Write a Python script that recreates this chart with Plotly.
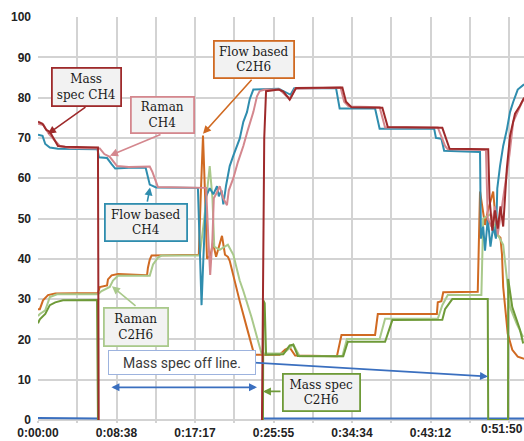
import plotly.graph_objects as go

# time in minutes, values in %
flow_ch4_t = [0, 0.5, 0.8, 1.3, 2.2, 6.55, 6.7, 7.6, 8.1, 8.5, 10, 11.85, 12.3, 13, 17.6,
              17.75, 18.0, 18.2, 18.5, 18.9, 19.3, 19.7, 19.9, 20.2, 20.4, 20.7, 21.1, 21.5, 21.9,
              22.2, 22.6, 23.0, 23.3, 23.7, 26.5, 27.2, 27.8, 28.2, 32.8, 33.2, 37.1, 37.6, 43.6,
              43.8, 44.4, 44.7, 48.5, 48.65, 48.75, 49.0, 49.2, 49.5, 49.8, 50.1, 50.4, 50.55,
              50.85, 51.2, 51.6, 51.95, 52.3, 52.8, 53.5]
flow_ch4_v = [70.8, 70.5, 68.5, 67.6, 67.3, 67.2, 65.2, 65.0, 63.5, 62.4, 62.6, 62.6, 58.4, 57.7, 57.6,
              45, 28.5, 40, 55.5, 57.5, 56, 58, 55.5, 57, 53.5, 58.2, 63, 65.6, 68,
              69.8, 74, 76.4, 79.6, 82, 82.2, 81.5, 80.7, 82.3, 82.4, 77.3, 77.3, 72.3, 72.3,
              70, 69.8, 66.8, 66.6, 66.5, 45, 48, 42, 50, 43, 48, 45, 57.5,
              63, 68, 72, 76.4, 78.9, 82, 83.3]

raman_ch4_t = [0, 0.6, 1.2, 2.4, 3.5, 6.8, 7.3, 7.9, 8.7, 10, 12.3, 12.6, 13.2, 17.7, 18.5, 18.75,
               18.95, 19.2, 19.35, 19.7, 20.0, 20.4, 20.8, 21.0, 21.5, 22.0, 22.6, 23.1, 23.7, 24.1,
               24.4, 25, 26.6, 27.3, 27.8, 28.3, 33.3, 33.7, 34.2, 37.6, 38.2, 44.0, 44.3, 44.8,
               45.1, 49.3, 49.5, 49.9, 50.3, 50.6, 51.0, 51.4, 51.9, 52.3, 53.3, 53.5]
raman_ch4_v = [73.5, 73.2, 71, 68, 67.5, 67.4, 66, 65.3, 63, 62.8, 62.9, 61.5, 57.8, 57.7, 57.6, 45,
               36, 45, 55, 56.5, 58, 55, 53.3, 57, 60, 64, 68, 72, 76.4, 80.3,
               81.6, 82, 82, 80.5, 79.8, 82.2, 82.5, 79, 77.8, 77.6, 72.6, 72.6, 70.8, 68,
               67.2, 67, 50, 48, 53, 46, 52, 58, 66, 74, 79, 79.5]

ms_ch4_t = [0, 0.5, 0.9, 1.3, 2.2, 3, 6.6, 6.68, 15, 24.65, 24.9, 25.1, 26.5, 27.0, 27.7, 28.4,
            33.5, 33.9, 34.5, 37.9, 38.5, 44.5, 45.3, 49.55, 49.7, 50.0, 50.3, 50.6, 50.9, 51.2,
            51.4, 51.6, 51.95, 52.5, 53.05, 53.5]
ms_ch4_v = [74, 73.5, 72, 71.5, 68, 67.8, 67.6, 0, None, 0, 70, 81.6, 82, 81.5, 79.5, 82.4,
            82.5, 79, 77.6, 77.5, 72.7, 72.5, 67.3, 67.2, 55, 47, 52, 47.5, 53, 48,
            55, 62.4, 70.5, 76, 78, 80]

flow_c2h6_t = [0, 0.2, 0.55, 1.1, 1.9, 6.6, 6.8, 7.6, 7.7, 8.1, 8.8, 12.0, 12.1, 12.3, 12.5, 17.7,
               17.9, 18.16, 18.4, 18.6, 19.0, 19.26, 19.6, 19.9, 20.25, 20.58, 20.9, 21.1, 21.46,
               22.2, 23.0, 23.5, 23.8, 26.6, 27.2, 27.7, 28.3, 32.9, 33.4, 37.1, 37.4, 43.9, 44.0,
               44.4, 44.6, 48.4, 48.55, 48.65, 49.2, 49.5, 50.1, 50.5, 50.9, 51.07, 51.2, 51.4,
               51.7, 52.2, 52.8, 53.5]
flow_c2h6_v = [27.5, 27.5, 29.7, 31, 31.4, 31.5, 33, 33.4, 34.9, 35.9, 36.2, 35.9, 37.8, 39.8, 40.8, 41,
               55, 70.6, 55, 40, 41, 44, 40.5, 43, 45.7, 41, 40.5, 39.5, 36,
               29.5, 22.8, 18.5, 16.2, 16.2, 17.5, 18, 16, 15.8, 21.1, 21.1, 26.3, 26.3, 29.2,
               29.5, 31.7, 31.8, 45, 56.7, 48.4, 51.8, 56.7, 46, 45.2, 41, 33, 28,
               21.4, 17.4, 15.7, 15.2]

raman_c2h6_t = [0, 0.2, 0.8, 1.3, 2.1, 6.6, 7.0, 7.9, 8.25, 8.8, 12.3, 12.66, 13.2, 13.6, 17.8,
                18.3, 18.9, 19.2, 19.4, 20.0, 20.9, 21.5, 22.2, 22.6, 23.5, 24.2, 24.6, 27.0, 27.7,
                28.1, 28.8, 33.5, 34.0, 37.6, 38.2, 44.0, 44.5, 45.1, 48.8, 49.0, 49.75, 50.6,
                51.2, 51.6, 51.95, 52.7, 53.4]
raman_c2h6_v = [25.8, 26.3, 27.2, 30.5, 31.2, 31.2, 32, 33, 34.6, 35.8, 35.8, 38.6, 40.3, 40.8, 40.8,
                50, 63, 55, 43, 42.2, 43.5, 41, 34.6, 32, 25.5, 19.9, 16.5, 16.5, 18,
                18.7, 15.8, 15.8, 20.1, 20.1, 25.1, 25.1, 28.5, 31, 31, 50, 51, 46,
                43.5, 35.4, 28, 23.8, 20.6]

ms_c2h6_t = [0, 0.2, 0.8, 1.3, 1.9, 2.75, 6.5, 6.6, 15, 24.76, 24.8, 24.95, 25.1, 27.0, 27.7, 28.1,
             28.6, 33.6, 34.1, 38.2, 39.0, 44.5, 44.8, 45.6, 49.5, 49.55, 50.6, 51.73, 51.75,
             52.2, 53.05, 53.4]
ms_c2h6_v = [24, 25, 26.3, 28.5, 29.2, 29.7, 29.8, 0, None, 0, 29.7, 29, 16.2, 16.3, 18.5, 18.7,
             15.9, 15.8, 19.4, 19.4, 24.8, 24.9, 27.5, 30, 30, 0, 0, 0, 35,
             28, 22.4, 19]

ms_base_t = [0, 6.6, 15, 24.7, 53.5]
ms_base_v = [0.5, 0.4, None, 0.4, 0.4]

tick_vals = [0, 8.64, 17.28, 25.92, 34.56, 43.2, 51.84]
tick_text = ["0:00:00", "0:08:38", "0:17:17", "0:25:55", "0:34:34", "0:43:12", "0:51:50"]

C_TEAL = "#2F8DAE"
C_RED = "#9E2A2B"
C_PINK = "#D4878E"
C_ORANGE = "#D06A22"
C_LGREEN = "#A9C98B"
C_DGREEN = "#6E9A38"
C_BLUE = "#3A6FBF"

fig = go.Figure()

def add(t, v, color, name):
    fig.add_trace(go.Scatter(x=t, y=v, mode="lines", name=name,
                             line=dict(color=color, width=2), connectgaps=False,
                             hoverinfo="skip"))

add(ms_base_t, ms_base_v, C_BLUE, "Mass spec other")
add(flow_c2h6_t, flow_c2h6_v, C_ORANGE, "Flow based C2H6")
add(raman_c2h6_t, raman_c2h6_v, C_LGREEN, "Raman C2H6")
add(ms_c2h6_t, ms_c2h6_v, C_DGREEN, "Mass spec C2H6")
add(flow_ch4_t, flow_ch4_v, C_TEAL, "Flow based CH4")
add(raman_ch4_t, raman_ch4_v, C_PINK, "Raman CH4")
add(ms_ch4_t, ms_ch4_v, C_RED, "Mass spec CH4")

SERIF = dict(family="DejaVu Serif", size=12, color="#1a1a1a")
TICKFONT = dict(family="Liberation Sans", size=12, color="#222222", weight="bold")

def box(x, y, text, color, w, h, font=SERIF, bg="#F2F2F2", bw=1.8):
    fig.add_annotation(x=x, y=y, xref="x", yref="y", text=text, showarrow=False,
                       font=font, bgcolor=bg, bordercolor=color, borderwidth=bw,
                       borderpad=0, width=w, height=h, align="center", valign="middle")

def arrow(tx, ty, hx, hy, color, both=False):
    fig.add_annotation(x=hx, y=hy, ax=tx, ay=ty, xref="x", yref="y", axref="x", ayref="y",
                       text="", showarrow=True, arrowhead=2, arrowsize=1, arrowwidth=1.6,
                       arrowcolor=color, arrowside="end+start" if both else "end",
                       startarrowhead=2, startarrowsize=1)

arrow(5.39, 77.9, 1.1, 71.0, C_RED)
arrow(13.65, 71.0, 7.92, 65.6, C_PINK)
arrow(23.66, 84.8, 18.16, 71.0, C_ORANGE)
arrow(12.0, 53.8, 12.33, 57.7, C_TEAL)
arrow(10.9, 28.0, 8.14, 33.2, C_LGREEN)
arrow(26.86, 7.1, 24.76, 7.1, C_DGREEN)
arrow(23.33, 14.3, 49.53, 10.8, C_BLUE)
arrow(7.92, 8.1, 24.1, 8.1, C_BLUE, both=True)

box(5.39, 82.7, "Mass<br>spec CH4", C_RED, 67, 36)
box(13.65, 75.6, "Raman<br>CH4", C_PINK, 61, 34)
box(23.72, 89.4, "Flow based<br>C2H6", C_ORANGE, 78, 35)
box(11.94, 49.1, "Flow based<br>CH4", C_TEAL, 80, 35)
box(10.84, 23.2, "Raman<br>C2H6", C_LGREEN, 62, 36)
box(31.15, 6.9, "Mass spec<br>C2H6", C_DGREEN, 75, 35)
box(15.9, 14.25, "Mass spec off line.",  "#9DB3DE", 146, 23,
    font=dict(family="Roboto", size=14, color="#3a3a3a"), bg="white", bw=1)

# last tick label kept inside the page at the right edge
fig.add_annotation(x=1, y=0, xref="paper", yref="paper", xanchor="right", yanchor="top",
                   text=tick_text[-1], showarrow=False, font=TICKFONT, yshift=-1, borderpad=0)

GRID = "#D3D3D3"
fig.update_layout(
    width=524, height=441,
    margin=dict(l=38, r=0, t=17, b=21, autoexpand=False),
    plot_bgcolor="white", paper_bgcolor="white",
    showlegend=False,
    xaxis=dict(range=[0, 53.49], tickvals=tick_vals,
               ticktext=tick_text[:-1] + [""], automargin=False,
               ticklabeloverflow="allow",
               showgrid=True, gridcolor=GRID, gridwidth=1.5,
               ticks="outside", ticklen=2, tickcolor=GRID, tickwidth=1.5,
               minor=dict(dtick=4.32, tick0=0, showgrid=True, gridcolor=GRID, gridwidth=1.5,
                          ticks="outside", ticklen=2, tickcolor=GRID, tickwidth=1.5),
               zeroline=False, showline=False, ticklabelstandoff=0,
               tickfont=TICKFONT),
    yaxis=dict(range=[0, 100], dtick=10, showgrid=True, gridcolor=GRID, gridwidth=1.5,
               automargin=False,
               zeroline=True, zerolinecolor=GRID, zerolinewidth=1.5, ticks="", ticklabelstandoff=6,
               tickfont=TICKFONT),
)

fig.write_html("out.html", config={"displayModeBar": False},
               post_script="document.body.style.margin='0px';document.body.style.overflow='hidden';")
